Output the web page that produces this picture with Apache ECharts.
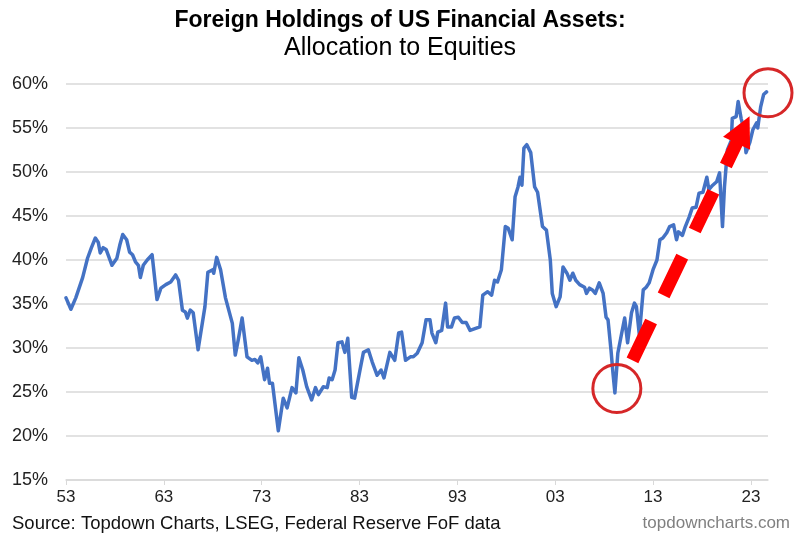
<!DOCTYPE html>
<html>
<head>
<meta charset="utf-8">
<script src="https://cdn.jsdelivr.net/npm/echarts@6/dist/echarts.min.js"></script>
<style>
html,body{margin:0;padding:0;background:#fff;}
#chart{width:800px;height:551px;}
</style>
</head>
<body>
<div id="chart"></div>
<script>
// Quarterly-ish readings (decimal year) of foreign allocation to US equities, %
const years = [
1953.0,1953.5,1954.0,1954.7,1955.2,1955.6,1956.0,1956.3,1956.5,1956.8,1957.1,1957.3,1957.7,1958.2,1958.5,1958.8,
1959.2,1959.5,1959.8,1960.1,1960.4,1960.6,1960.9,1961.3,1961.5,1961.8,1962.3,1962.7,1963.2,1963.7,1964.2,1964.5,
1964.9,1965.2,1965.4,1965.7,1966.0,1966.5,1966.7,1967.2,1967.5,1968.0,1968.1,1968.4,1968.8,1969.3,1970.0,1970.3,
1970.6,1971.0,1971.5,1972.0,1972.3,1972.6,1972.9,1973.3,1973.6,1973.8,1974.1,1974.7,1975.2,1975.6,1976.1,1976.5,
1976.8,1977.2,1977.6,1978.1,1978.5,1978.8,1979.3,1979.7,1979.9,1980.2,1980.5,1980.8,1981.2,1981.5,1981.8,1982.2,
1982.5,1983.1,1983.4,1983.9,1984.3,1984.8,1985.2,1985.5,1986.1,1986.3,1986.6,1987.0,1987.3,1987.7,1988.2,1988.5,
1988.9,1989.0,1989.4,1989.8,1990.2,1990.4,1990.8,1991.0,1991.4,1991.8,1992.0,1992.4,1992.7,1993.1,1993.5,1993.9,
1994.3,1994.8,1995.3,1995.6,1996.1,1996.5,1996.8,1997.1,1997.5,1997.9,1998.2,1998.6,1998.9,1999.2,1999.4,1999.6,
1999.8,2000.1,2000.5,2000.9,2001.2,2001.7,2002.1,2002.5,2002.7,2003.1,2003.5,2003.8,2004.2,2004.5,2004.8,2005.1,
2005.5,2006.0,2006.2,2006.5,2006.8,2007.1,2007.5,2007.9,2008.2,2008.4,2008.7,2008.9,2009.1,2009.4,2009.8,2010.1,
2010.4,2010.8,2011.1,2011.3,2011.6,2012.0,2012.3,2012.6,2013.0,2013.4,2013.7,2014.0,2014.4,2014.7,2015.1,2015.4,
2015.6,2016.0,2016.3,2016.7,2017.0,2017.4,2017.7,2018.1,2018.5,2018.7,2019.1,2019.5,2019.8,2020.1,2020.3,2020.6,
2021.0,2021.1,2021.5,2021.7,2022.0,2022.3,2022.5,2022.9,2023.2,2023.6,2023.7,2024.0,2024.3,2024.6
];
const equityShare = [
35.7,34.4,35.7,38.0,40.2,41.4,42.5,42.0,40.8,41.4,41.2,41.4,39.4,40.2,41.7,42.9,
42.3,40.9,40.6,39.8,39.4,38.0,39.4,40.0,39.8,40.6,35.5,36.8,37.2,37.5,38.3,37.7,
34.3,34.1,33.4,34.3,34.0,29.8,30.0,34.7,38.6,38.9,38.5,40.3,38.9,35.7,32.8,29.2,
30.9,33.4,29.0,28.6,28.7,28.3,29.0,26.4,27.7,26.0,26.0,20.6,24.3,23.2,25.5,24.9,
28.9,27.5,25.6,24.1,25.5,24.7,25.6,25.5,26.6,26.4,27.5,30.6,30.7,29.5,31.1,24.4,
24.3,27.8,29.5,29.8,28.4,26.9,27.5,26.6,29.5,29.5,28.6,31.7,31.8,28.6,29.0,29.0,
29.4,29.2,30.6,33.2,33.2,31.7,30.6,31.8,32.0,35.1,32.4,32.4,33.4,33.5,32.9,32.9,
32.0,32.2,32.4,36.0,36.4,36.0,37.7,37.5,38.9,43.8,43.6,42.3,47.2,48.3,49.4,48.5,
52.7,53.1,52.2,48.3,47.7,43.8,43.4,40.0,36.2,34.7,35.8,39.2,38.5,37.7,38.5,37.7,
37.2,36.9,36.2,36.8,36.6,36.2,37.4,36.2,33.5,33.2,29.8,27.2,24.9,29.4,31.7,33.4,
30.6,34.0,35.1,34.7,31.5,36.6,36.9,37.4,38.9,40.0,42.3,42.5,43.1,43.8,44.0,42.3,
43.2,42.8,43.8,44.9,45.9,46.0,47.6,47.7,49.4,48.0,48.5,48.9,49.9,43.8,48.3,52.5,
53.6,56.1,56.3,58.0,56.1,54.8,52.2,53.4,54.8,55.6,55.0,57.4,58.8,59.1
];
const xTickYears = [1953,1963,1973,1983,1993,2003,2013,2023];
const yTicks = [15,20,25,30,35,40,45,50,55,60];
// annotation anchors (data space)
const circleAnchors = [[2009.3, 25.4],[2024.75, 59.0]];
const arrowFrom = [2010.9, 28.6];
const arrowTo = [2022.2, 54.8];

const FONT = 'Liberation Sans, Arial, Helvetica, sans-serif';
const chart = echarts.init(document.getElementById('chart'), null, {renderer:'canvas'});
chart.setOption({
  animation:false,
  backgroundColor:'#ffffff',
  title:[
    {text:'Foreign Holdings of US Financial Assets:', subtext:'Allocation to Equities',
     left:'center', top:4, itemGap:4,
     textStyle:{fontFamily:FONT,fontSize:23,fontWeight:'bold',color:'#000'},
     subtextStyle:{fontFamily:FONT,fontSize:25,color:'#000'}},
    {text:'Source: Topdown Charts, LSEG, Federal Reserve FoF data', left:12, top:514, padding:0,
     textStyle:{fontFamily:FONT,fontSize:18.5,fontWeight:'normal',color:'#111'}},
    {text:'topdowncharts.com', right:10, top:515, padding:0,
     textStyle:{fontFamily:FONT,fontSize:17,fontWeight:'normal',color:'#808080'}}
  ],
  grid:{left:66,right:32,top:84,bottom:71,containLabel:false},
  xAxis:{
    type:'value', min:1953, max:2024.75,
    axisLine:{show:true,lineStyle:{color:'#d9d9d9',width:1.5}},
    axisTick:{show:true,customValues:xTickYears,length:5,lineStyle:{color:'#d9d9d9'}},
    axisLabel:{customValues:xTickYears,margin:9,fontFamily:FONT,fontSize:17,color:'#222',
      formatter:v=>String(Math.round(v)%100).padStart(2,'0')},
    splitLine:{show:false}
  },
  yAxis:{
    type:'value', min:15, max:60, interval:5,
    axisLine:{show:false}, axisTick:{show:false},
    axisLabel:{margin:18,fontFamily:FONT,fontSize:18,color:'#222',formatter:'{value}%'},
    splitLine:{show:true,lineStyle:{color:'#d9d9d9',width:1.5}}
  },
  series:[{
    type:'line',
    data:years.map((y,i)=>[y,equityShare[i]]),
    showSymbol:false, symbol:'none',
    lineStyle:{color:'#4472C4',width:3.5,join:'round',cap:'round'},
    silent:true,
    markLine:{
      silent:true, animation:false,
      symbol:['none','triangle'], symbolSize:[30,30],
      label:{show:false},
      lineStyle:{color:'#ff0000',width:13,type:[43,29],cap:'butt'},
      itemStyle:{color:'#ff0000'},
      emphasis:{disabled:true},
      data:[[{coord:arrowFrom},{coord:arrowTo}]]
    },
    markPoint:{
      silent:true, animation:false,
      symbol:'circle', symbolSize:48,
      label:{show:false},
      itemStyle:{color:'rgba(0,0,0,0)',borderColor:'#d62728',borderWidth:3},
      data:circleAnchors.map(c=>({coord:c}))
    }
  }]
});
</script>
</body>
</html>
